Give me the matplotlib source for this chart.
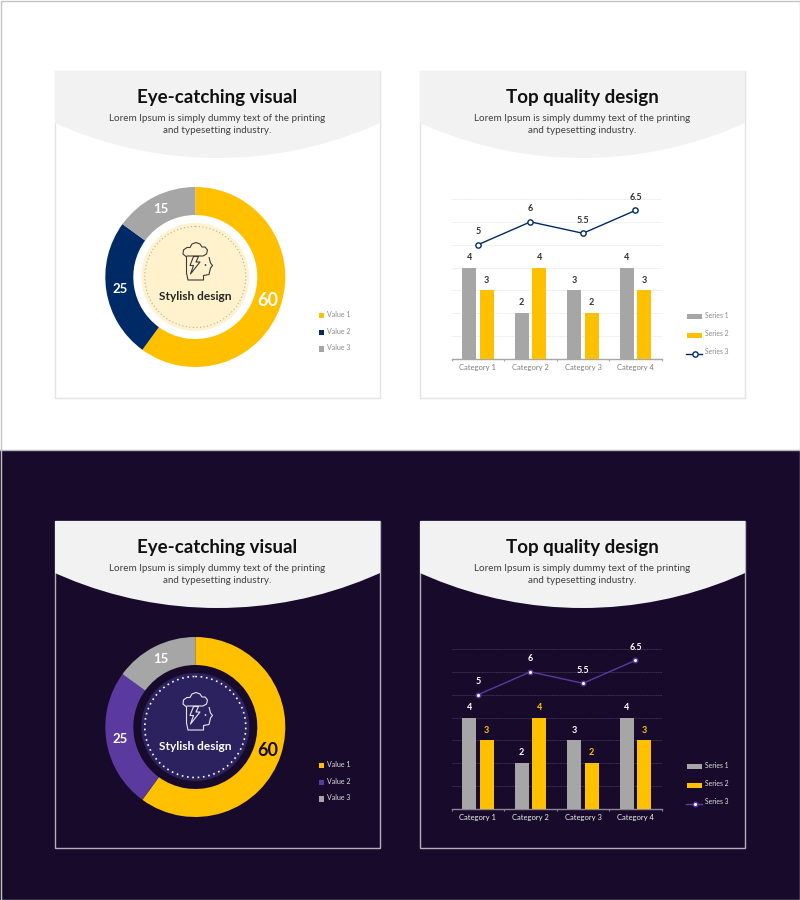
#!/usr/bin/env python3
"""Two infographic cards (donut and bar/line combo), light and dark variants."""

import matplotlib

matplotlib.use("Agg")
import matplotlib.pyplot as plt
import numpy as np
from matplotlib.patches import Circle, PathPatch, Rectangle
from matplotlib.path import Path

W, H = 800, 900

# data
donut_labels = ["Value 1", "Value 2", "Value 3"]
donut_values = [60, 25, 15]
categories = ["Category 1", "Category 2", "Category 3", "Category 4"]
series_1 = [4, 2, 3, 4]
series_2 = [3, 4, 2, 3]
series_3 = [5, 6, 5.5, 6.5]
series_names = ["Series 1", "Series 2", "Series 3"]
series_3_labels = ["5", "6", "5.5", "6.5"]

FONT = "Lato"
GOLD = "#ffc000"
GREY = "#a6a6a6"

LIGHT = dict(
    bg="#ffffff", card="#ffffff", border="#e4e4e4", accent="#002a66", disc="#fff2cc",
    ring="#b5b0a0", ring_lw=0.8, icon="#3a3a3a", centre_text="#262626", value_60="#ffffff",
    legend_text="#8a8a8a", grid="#e8e8e8", axis="#a6a6a6", tick_text="#7f7f7f",
    label_1="#333333", label_2="#333333", label_3="#333333",
    marker_face="#ffffff", marker_size=3.8, marker_edge=1.0,
)
DARK = dict(
    bg="#170a2b", card="#170a2b", border="#b4b0bb", accent="#5a3a9e", disc="#2c2260",
    ring="#ffffff", ring_lw=1.2, icon="#e8e6f0", centre_text="#ffffff", value_60="#170a2b",
    legend_text="#e0e0e0", grid="#3f3556", axis="#8a8594", tick_text="#f0f0f0",
    label_1="#ffffff", label_2=GOLD, label_3="#ffffff",
    marker_face="#ffffff", marker_size=3.2, marker_edge=1.0,
)


def px_axes(fig, x0, y0, x1, y1):
    # y0/y1 are image pixels counted from the top
    return fig.add_axes([x0 / W, 1 - y1 / H, (x1 - x0) / W, (y1 - y0) / H])


def draw_card(ov, x0, dy, title, th):
    y0, y1 = 71 + dy, 398 + dy
    card = Rectangle((x0, y0), 325, y1 - y0, fc=th["card"], ec=th["border"], lw=1, zorder=1)
    ov.add_patch(card)
    # header is the bottom of a big circle, clipped by the card
    cx = x0 + 162.5
    r = 395
    cap = Circle((cx, 158 + dy - r), r, fc="#f2f2f2", ec="none", zorder=2)
    ov.add_patch(cap)
    cap.set_clip_path(card)
    ov.text(cx, 97 + dy, title, ha="center", va="center", fontsize=13.5, fontweight="bold",
            color="#111111", family=FONT, zorder=3)
    ov.text(cx, 118.3 + dy, "Lorem Ipsum is simply dummy text of the printing", ha="center", va="center",
            fontsize=7.1, color="#404040", family=FONT, zorder=3)
    ov.text(cx, 130.8 + dy, "and typesetting industry.", ha="center", va="center",
            fontsize=7.1, color="#404040", family=FONT, zorder=3)


def draw_icon(ov, dy, color):
    # head + cloud + bolt, traced in pixels from the picture
    ox, oy = 170, 235 + dy
    head = [(16.5, 22), (16.5, 38), (18, 45), (33.5, 45), (33.5, 40.5), (39, 39.5), (40.5, 33),
            (42.5, 30.5), (40.5, 28), (39, 22)]
    cloud = [(16.5, 22), (13, 19), (13.5, 15), (17, 12.5), (20, 12.5), (22, 9), (26, 7.5), (30, 9),
             (32, 12), (35, 12), (37.5, 15), (36.5, 19), (33, 21), (16.5, 21)]
    bolt = [(23.5, 21.5), (28.5, 21.5), (26, 27), (30, 27), (20.5, 39), (23.5, 30.5), (20, 30.5), (23.5, 21.5)]
    for pts in (head, cloud, bolt):
        path = Path([(ox + x, oy + y) for x, y in pts])
        ov.add_patch(PathPatch(path, fc="none", ec=color, lw=0.8, joinstyle="round", zorder=6))
    ov.add_patch(Circle((ox + 35.5, oy + 30), 0.9, fc=color, ec="none", zorder=6))


def draw_donut(fig, ov, dy, th):
    cx, cy, R = 195.3, 277 + dy, 90
    ax = px_axes(fig, cx - R, cy - R, cx + R, cy + R)
    colors = [GOLD, th["accent"], GREY]
    ax.pie(donut_values, colors=colors, startangle=90, counterclock=False, radius=1,
           wedgeprops=dict(width=28 / 90, linewidth=0))
    ax.set_xlim(-1, 1)
    ax.set_ylim(-1, 1)
    ax.patch.set_alpha(0)

    # value labels sit at the middle of each wedge
    mids = (np.cumsum(donut_values) - np.array(donut_values) / 2) / sum(donut_values) * 2 * np.pi
    sizes = [13, 9.5, 9.5]
    label_colors = [th["value_60"], "#ffffff", "#ffffff"]
    for v, a, s, c in zip(donut_values, mids, sizes, label_colors):
        ax.text(np.sin(a) * 76 / 90, np.cos(a) * 76 / 90, str(v), ha="center", va="center",
                fontsize=s, fontweight="bold", color=c, family=FONT)

    ov.add_patch(Circle((cx, cy), 54, fc=th["disc"], ec="none", zorder=4))
    ov.add_patch(Circle((cx, cy), 50.5, fc="none", ec=th["ring"], lw=th["ring_lw"],
                        ls=(0, (1, 2.2)), zorder=5))
    draw_icon(ov, dy, th["icon"])
    ov.text(cx, 296.5 + dy, "Stylish design", ha="center", va="center", fontsize=8.6, fontweight="bold",
            color=th["centre_text"], family=FONT, zorder=6)

    for name, c, y in zip(donut_labels, colors, (315.3, 332.3, 349)):
        ov.add_patch(Rectangle((318.7, y + dy - 2.7), 5.4, 5.4, fc=c, ec="none", zorder=3))
        ov.text(327, y + dy - 1, name, ha="left", va="center", fontsize=5,
                color=th["legend_text"], family=FONT, zorder=3)


def draw_combo(fig, ov, dy, th):
    ax = px_axes(fig, 451.7, 199 + dy, 661.7, 359 + dy)
    ax.patch.set_alpha(0)
    x = np.arange(len(categories))
    off, bw = 0.167, 0.267

    ax.bar(x - off, series_1, bw, color=GREY, zorder=3)
    ax.bar(x + off, series_2, bw, color=GOLD, zorder=3)
    ax.plot(x, series_3, color=th["accent"], lw=1.0, marker="o", ms=th["marker_size"],
            mfc=th["marker_face"], mec=th["accent"], mew=th["marker_edge"], zorder=4, clip_on=False)

    for xi, v in zip(x - off, series_1):
        ax.annotate(str(v), (xi, v), xytext=(0, 7.5), textcoords="offset points", ha="center", va="center",
                    fontsize=6.5, fontweight="bold", color=th["label_1"], family=FONT)
    for xi, v in zip(x + off, series_2):
        ax.annotate(str(v), (xi, v), xytext=(0, 7.5), textcoords="offset points", ha="center", va="center",
                    fontsize=6.5, fontweight="bold", color=th["label_2"], family=FONT)
    for xi, v, s in zip(x, series_3, series_3_labels):
        ax.annotate(s, (xi, v), xytext=(0, 9.4), textcoords="offset points", ha="center", va="center",
                    fontsize=6.5, fontweight="bold", color=th["label_3"], family=FONT)

    ax.set_xlim(-0.5, 3.5)
    ax.set_ylim(0, 7)
    ax.set_yticks(range(1, 8))
    ax.tick_params(axis="y", length=0, labelleft=False)
    ax.grid(axis="y", color=th["grid"], lw=0.7, ls=(0, (1, 0.6)), zorder=0)
    ax.set_xticks(x)
    ax.set_xticklabels(categories, fontsize=5.5, color=th["tick_text"], family=FONT)
    ax.set_xticks(np.arange(-0.5, 4), minor=True)
    ax.tick_params(axis="x", which="major", length=0, pad=3.5)
    ax.tick_params(axis="x", which="minor", length=1.5, color=th["axis"], width=0.8)
    for side in ("top", "left", "right"):
        ax.spines[side].set_visible(False)
    ax.spines["bottom"].set_color(th["axis"])
    ax.spines["bottom"].set_linewidth(1)

    # hand-placed legend, it sits outside the plot on the right
    ov.add_patch(Rectangle((687, 313.6 + dy), 15.3, 5.4, fc=GREY, ec="none", zorder=3))
    ov.add_patch(Rectangle((687, 332.6 + dy), 15.3, 5.4, fc=GOLD, ec="none", zorder=3))
    ov.plot([686, 702.3], [354 + dy, 354 + dy], color=th["accent"], lw=1.0, zorder=3)
    ov.plot([694.7], [354 + dy], color=th["accent"], marker="o", ms=th["marker_size"],
            mfc=th["marker_face"], mec=th["accent"], mew=th["marker_edge"], zorder=4)
    for name, y in zip(series_names, (315.3, 333.3, 352)):
        ov.text(704.7, y + dy, name, ha="left", va="center", fontsize=4.9, color=th["legend_text"],
                family=FONT, zorder=3)


def main():
    fig = plt.figure(figsize=(W / 100, H / 100), dpi=100, facecolor="#ffffff")
    ov = fig.add_axes([0, 0, 1, 1])
    ov.set_xlim(0, W)
    ov.set_ylim(H, 0)
    ov.axis("off")

    ov.add_patch(Rectangle((0, 450), W, 450, fc=DARK["bg"], ec="none", zorder=0))
    ov.add_patch(Rectangle((0.5, 0.5), W - 1, H - 1, fc="none", ec="#c4c4c4", lw=1, zorder=8))
    ov.plot([0, W], [450, 450], color="#b8b8b8", lw=1, zorder=8)

    for dy, th in ((0, LIGHT), (450, DARK)):
        draw_card(ov, 55, dy, "Eye-catching visual", th)
        draw_card(ov, 420, dy, "Top quality design", th)
        draw_donut(fig, ov, dy, th)
        draw_combo(fig, ov, dy, th)

    fig.savefig("out.png", dpi=100, facecolor=fig.get_facecolor())


if __name__ == "__main__":
    main()
